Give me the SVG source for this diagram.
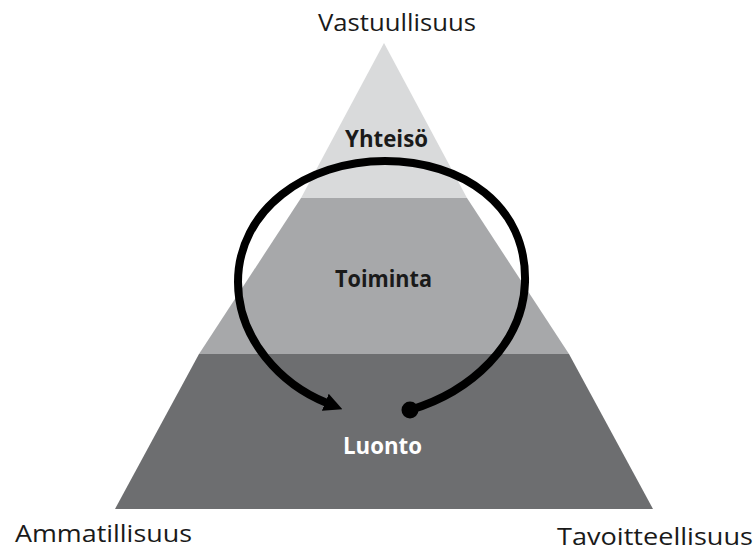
<svg xmlns="http://www.w3.org/2000/svg" width="755" height="554" viewBox="0 0 755 554">
<style>
.lbl{font-family:"Open Sans","Noto Sans",sans-serif;font-size:24px;fill:#1a1a1a}
.in{font-family:"Open Sans","Noto Sans",sans-serif;font-size:23px;font-weight:bold}
</style>
<defs>
<marker id="ah" viewBox="0 0 10 10" refX="1" refY="5" markerWidth="2.3" markerHeight="2.3" orient="auto" markerUnits="strokeWidth">
<path d="M0,0 L10,5 L0,10 z" fill="#000"/>
</marker>
</defs>
<g id="pyramid">
<polygon id="top" points="384,43 467,198 301,198" fill="#d9dadb"/>
<polygon id="middle" points="301,198 467,198 569,354 199,354" fill="#a7a8aa"/>
<polygon id="bottom" points="199,354 569,354 653,509 115,509" fill="#6d6e70"/>
</g>
<g id="connectors">
<path d="M 410 410 C 470 392, 523 345, 525 282 C 527 205, 462 161, 385 161 C 306 161, 238 210, 238 282 C 238 340, 282 385, 327 403" fill="none" stroke="#000" stroke-width="8" marker-end="url(#ah)"/>
<circle cx="410" cy="410" r="8.5" fill="#000"/>
</g>
<g id="labels">
<text class="lbl" x="318" y="31" textLength="158" lengthAdjust="spacingAndGlyphs">Vastuullisuus</text>
<text class="lbl" x="15" y="542" textLength="177" lengthAdjust="spacingAndGlyphs">Ammatillisuus</text>
<text class="lbl" x="557" y="545" textLength="196" lengthAdjust="spacingAndGlyphs">Tavoitteellisuus</text>
<text class="in" x="345" y="147" fill="#1a1a1a" textLength="83" lengthAdjust="spacingAndGlyphs">Yhteisö</text>
<text class="in" x="335" y="287" fill="#1a1a1a" textLength="97" lengthAdjust="spacingAndGlyphs">Toiminta</text>
<text class="in" x="343" y="454" fill="#fff" textLength="79" lengthAdjust="spacingAndGlyphs">Luonto</text>
</g>
</svg>
